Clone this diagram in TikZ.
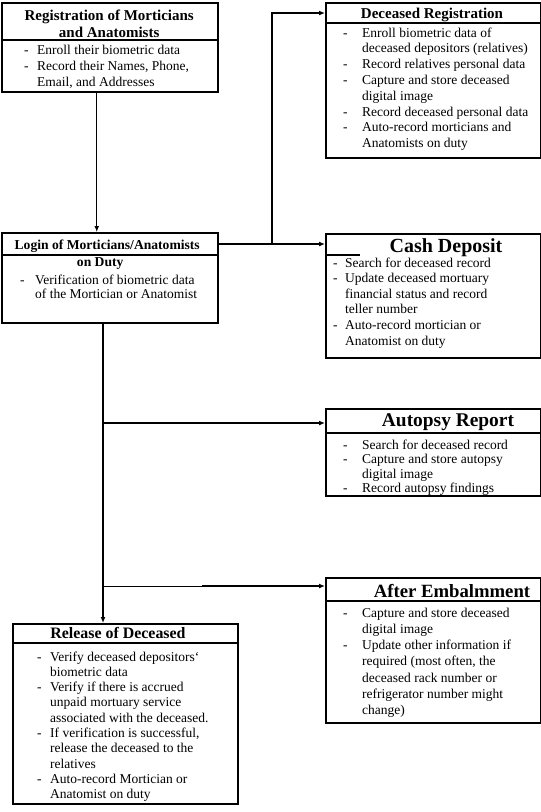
\documentclass[tikz,border=0pt]{standalone}
\usepackage{fontspec}
\setmainfont{Liberation Serif}
\usetikzlibrary{arrows.meta}
\newlength\txin
\newcommand\bitem[1]{\par\noindent\hangindent=\txin\hangafter=1\makebox[\txin][l]{-}#1}
\newcommand\blist[4]{\begin{minipage}[t]{240pt}\fontsize{13.5}{#2}\selectfont\setlength\txin{#1}\setlength\parindent{0pt}#3\end{minipage}}
\tikzset{
  box/.style={draw, line width=1.5pt, inner sep=0pt, anchor=north west},
  sepline/.style={line width=1.3pt},
  conn/.style={line width=1.4pt},
  arr/.style={conn, -{Latex[length=6pt,width=5pt]}},
  txt/.style={inner sep=0pt, anchor=base west},
  ttl/.style={inner sep=0pt, anchor=base, font=\bfseries},
}
\begin{document}
\begin{tikzpicture}[x=1pt,y=-1pt]
\useasboundingbox[fill=white] (0,0) rectangle (541,812);
% boxes
\node[box, minimum width=216pt, minimum height=89pt] (reg) at (1,2) {};
\node[box, minimum width=216pt, minimum height=90pt] (login) at (1,232) {};
\node[box, minimum width=215pt, minimum height=155pt] (decreg) at (325,2) {};
\node[box, minimum width=215pt, minimum height=124pt] (cash) at (325,233) {};
\node[box, minimum width=215pt, minimum height=87pt] (autopsy) at (325,408) {};
\node[box, minimum width=215pt, minimum height=145pt] (after) at (325,577) {};
\node[box, minimum width=225pt, minimum height=180pt] (release) at (12,623) {};
% separators
\draw[sepline] (reg.west |- 0,40) -- (reg.east |- 0,40);
\draw[sepline] (login.west |- 0,255) -- (login.east |- 0,255);
\draw[sepline] (decreg.west |- 0,23) -- (decreg.east |- 0,23);
\draw[sepline] (cash.west |- 0,255) -- (360,255);
\draw[sepline] (autopsy.west |- 0,433) -- (autopsy.east |- 0,433);
\draw[sepline] (after.west |- 0,601) -- (after.east |- 0,601);
\draw[sepline] (release.west |- 0,643) -- (release.east |- 0,643);
% titles
\node[txt] (regt) at (1,20) {\begin{minipage}[t]{216pt}\centering\fontsize{15}{17}\selectfont\bfseries Registration of Morticians\\and Anatomists\end{minipage}};
\node[txt] (logint) at (1,249.5) {\begin{minipage}[t]{212pt}\centering\fontsize{13.6}{17}\selectfont\bfseries Login of Morticians/Anatomists\\on Duty\hspace*{14pt}\end{minipage}};
\node[ttl, font=\bfseries\fontsize{15}{17}\selectfont] (decregt) at (432,18) {Deceased Registration};
\node[ttl, font=\bfseries\fontsize{20}{22}\selectfont] (casht) at (446,252) {Cash Deposit};
\node[ttl, font=\bfseries\fontsize{19.4}{22}\selectfont] (autopsyt) at (448,426) {Autopsy Report};
\node[ttl, font=\bfseries\fontsize{18.7}{22}\selectfont] (aftert) at (452,597) {After Embalmment};
\node[ttl, font=\bfseries\fontsize{15.9}{18}\selectfont] (releaset) at (118,638) {Release of Deceased};
% bodies
\node[txt] (regb) at (24,54) {\blist{13pt}{16}{\bitem{Enroll their biometric data}\bitem{Record their Names, Phone,\newline Email, and Addresses}}{}};
\node[txt] (loginb) at (20,284) {\blist{15pt}{14}{\bitem{Verification of biometric data\newline of the Mortician or Anatomist}}{}};
\node[txt] (decregb) at (343,37) {\blist{19pt}{15.8}{\bitem{Enroll biometric data of\newline deceased depositors (relatives)}\bitem{Record relatives personal data}\bitem{Capture and store deceased\newline digital image}\bitem{Record deceased personal data}\bitem{Auto-record morticians and\newline Anatomists on duty}}{}};
\node[txt] (cashb) at (333,267) {\blist{12pt}{15.6}{\bitem{Search for deceased record}\bitem{Update deceased mortuary\newline financial status and record\newline teller number}\bitem{Auto-record mortician or\newline Anatomist on duty}}{}};
\node[txt] (autopsyb) at (343,449) {\blist{19pt}{14.5}{\bitem{Search for deceased record}\bitem{Capture and store autopsy\newline digital image}\bitem{Record autopsy findings}}{}};
\node[txt] (afterb) at (343,617) {\blist{19pt}{16.3}{\bitem{Capture and store deceased\newline digital image}\bitem{Update other information if\newline required (most often, the\newline deceased rack number or\newline refrigerator number might\newline change)}}{}};
\node[txt] (releaseb) at (37,661) {\blist{13pt}{15.3}{\bitem{Verify deceased depositors\symbol{"60}\newline biometric data}\bitem{Verify if there is accrued\newline unpaid mortuary service\newline associated with the deceased.}\bitem{If verification is successful,\newline release the deceased to the\newline relatives}\bitem{Auto-record Mortician or\newline Anatomist on duty}}{}};
% connectors
\coordinate (j1) at (272,244);
\coordinate (ta) at (103,423);
\coordinate (tb) at (103,586);
\coordinate (tc) at (202,586);
\draw[arr] ([xshift=-13pt]reg.south) -- ([xshift=-13pt]reg.south |- login.north);
\draw[arr] (login.east |- j1) -- (cash.west |- j1);
\draw[arr] (j1) |- ([yshift=-11pt]decreg.north west);
\draw[arr] (login.south -| ta) -- (release.north -| ta);
\draw[arr] (ta) -- (autopsy.west |- ta);
\draw[line width=0.8pt] (tb) -- (tc);
\draw[arr] (tc) -- (after.west |- tb);
\end{tikzpicture}
\end{document}
